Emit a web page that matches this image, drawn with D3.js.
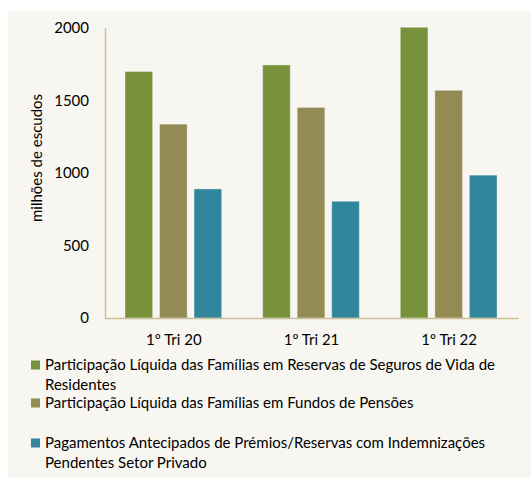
<!DOCTYPE html>
<html>
<head>
<meta charset="utf-8">
<script src="https://cdn.jsdelivr.net/npm/d3@7"></script>
<style>
  body { margin: 0; background: #ffffff; }
  svg { display: block; font-family: Lato, "Open Sans", sans-serif; }
</style>
</head>
<body>
<svg class="chart"></svg>
<script>
// data
const categories = ["1º Tri 20", "1º Tri 21", "1º Tri 22"];
const seriesNames = [
  "Participação Líquida das Famílias em Reservas de Seguros de Vida de Residentes",
  "Participação Líquida das Famílias em Fundos de Pensões",
  "Pagamentos Antecipados de Prémios/Reservas com Indemnizações Pendentes Setor Privado"
];
const seguros  = [1700, 1745, 2005];
const pensoes  = [1337, 1452, 1570];
const premios  = [890, 805, 985];
const yTicks   = [0, 500, 1000, 1500, 2000];
const colors   = ["#77923b", "#948a54", "#31859c"];

// legend text lines (wrapped as in the reference)
const legendLines = [
  ["Participação Líquida das Famílias em Reservas de Seguros de Vida de", "Residentes"],
  ["Participação Líquida das Famílias em Fundos de Pensões"],
  ["Pagamentos Antecipados de Prémios/Reservas com Indemnizações", "Pendentes Setor Privado"]
];

const width = 531, height = 478;
const fontSize = 15;
const svg = d3.select(".chart").attr("width", width).attr("height", height);

svg.append("rect")
  .attr("x", 8).attr("y", 11)
  .attr("width", width - 8).attr("height", height - 11)
  .attr("fill", "#f7f6f1");

const plotLeft = 105, plotRight = 518, plotTop = 28, plotBottom = 318;

const x = d3.scaleBand().domain(categories).range([plotLeft, plotRight]).paddingInner(0).paddingOuter(0);
const inner = d3.scaleBand().domain([0, 1, 2]).range([20, x.bandwidth() - 21]).paddingInner(0.2).paddingOuter(0);
const y = d3.scaleLinear().domain([0, 2000]).range([plotBottom, plotTop]);

const series = [seguros, pensoes, premios];

const groups = svg.append("g").selectAll("g")
  .data(categories)
  .join("g")
  .attr("transform", d => "translate(" + x(d) + ",0)");

groups.selectAll("rect")
  .data((c, i) => series.map((s, k) => ({ k: k, v: s[i] })))
  .join("rect")
  .attr("x", d => inner(d.k))
  .attr("width", inner.bandwidth())
  .attr("y", d => y(d.v))
  .attr("height", d => y(0) - y(d.v))
  .attr("fill", d => colors[d.k])
  .attr("stroke", "rgba(255,255,255,0.35)")
  .attr("stroke-width", 1);

// y axis
const yAxis = svg.append("g")
  .attr("transform", "translate(" + plotLeft + ",0)")
  .call(d3.axisLeft(y).tickValues(yTicks).tickSize(0).tickPadding(16).tickFormat(d3.format("d")));
yAxis.select(".domain").attr("stroke", "#c9c09a").attr("stroke-width", 1.5);
yAxis.selectAll("text").attr("font-size", fontSize).attr("fill", "#000").attr("font-family", "Lato");

// x axis
const xAxis = svg.append("g")
  .attr("transform", "translate(0," + plotBottom + ")")
  .call(d3.axisBottom(x).tickSize(0).tickPadding(16));
xAxis.select(".domain").attr("stroke", "#c9c09a").attr("stroke-width", 1.5);
xAxis.selectAll("text").attr("font-size", fontSize).attr("fill", "#000").attr("font-family", "Lato");

// y axis title
svg.append("text")
  .attr("transform", "translate(42,158) rotate(-90)")
  .attr("text-anchor", "middle")
  .attr("font-size", fontSize)
  .text("milhões de escudos");

// legend
const legendY = [365, 403, 443];
const legend = svg.append("g");
legendLines.forEach((lines, k) => {
  legend.append("rect")
    .attr("x", 31).attr("y", legendY[k] - 4.5)
    .attr("width", 9).attr("height", 9)
    .attr("fill", colors[k]);
  lines.forEach((t, j) => {
    legend.append("text")
      .attr("x", 45).attr("y", legendY[k] + j * 20)
      .attr("dy", "0.35em")
      .attr("font-size", fontSize)
      .text(t);
  });
});
</script>
</body>
</html>
